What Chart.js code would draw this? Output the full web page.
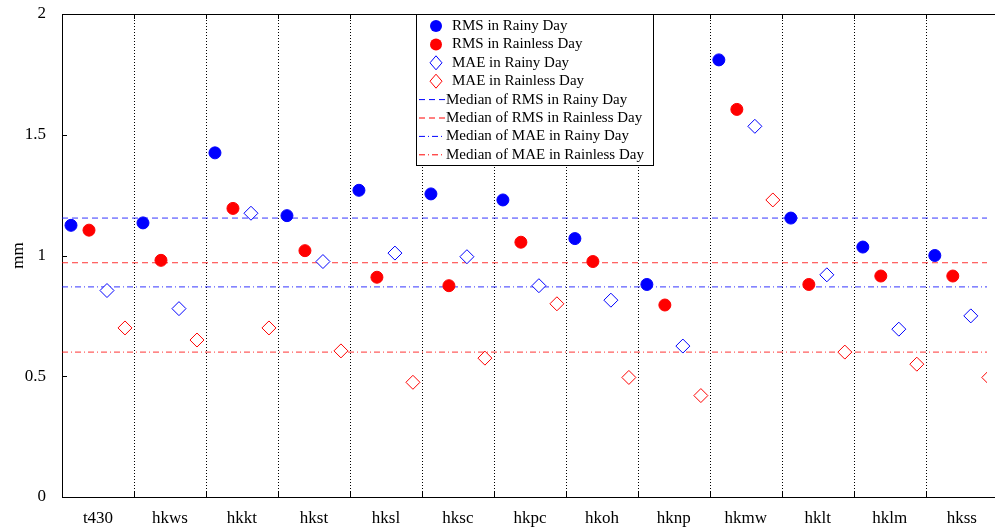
<!DOCTYPE html>
<html><head><meta charset="utf-8">
<script src="https://cdn.jsdelivr.net/npm/chart.js@4/dist/chart.umd.min.js"></script>
<style>html,body{margin:0;padding:0;overflow:hidden;background:#fff}#w{width:995px;height:529px}</style>
</head><body><div id="w"><canvas id="c"></canvas></div>
<script>
const stations=['t430','hkws','hkkt','hkst','hksl','hksc','hkpc','hkoh','hknp','hkmw','hklt','hklm','hkss'];
const rmsRainy=[1.125,1.135,1.425,1.165,1.27,1.255,1.23,1.07,0.88,1.81,1.155,1.035,1.00];
const rmsRainless=[1.105,0.98,1.195,1.02,0.91,0.875,1.055,0.975,0.795,1.605,0.88,0.915,0.915];
const maeRainy=[0.855,0.78,1.175,0.975,1.01,0.995,0.875,0.815,0.625,1.535,0.92,0.695,0.75];
const maeRainless=[0.70,0.65,0.70,0.605,0.475,0.575,0.80,0.495,0.42,1.23,0.60,0.55,0.495];
const medRmsRainy=1.155, medRmsRainless=0.97, medMaeRainy=0.87, medMaeRainless=0.60;
const yTicks=[0,0.5,1,1.5,2];
const F='"Liberation Serif","Times New Roman",serif';
const pts=(arr,off)=>arr.map((v,i)=>({x:i+off,y:v}));
const hline=v=>[{x:0,y:v},{x:13,y:v}];
const ds=[
 {label:'RMS in Rainy Day',data:pts(rmsRainy,0.125),pointStyle:'circle',radius:6,backgroundColor:'#0000ff',borderColor:'#0000ff',showLine:false},
 {label:'RMS in Rainless Day',data:pts(rmsRainless,0.375),pointStyle:'circle',radius:6,backgroundColor:'#ff0000',borderColor:'#ff0000',showLine:false},
 {label:'MAE in Rainy Day',data:pts(maeRainy,0.625),pointStyle:'rectRot',radius:7,backgroundColor:'#fff',borderColor:'#0000ff',borderWidth:1,showLine:false},
 {label:'MAE in Rainless Day',data:pts(maeRainless,0.875),pointStyle:'rectRot',radius:7,backgroundColor:'#fff',borderColor:'#ff0000',borderWidth:1,showLine:false},
 {label:'Median of RMS in Rainy Day',data:hline(medRmsRainy),showLine:true,radius:0,borderColor:'#0000ff',borderWidth:0.8,borderDash:[6,4]},
 {label:'Median of RMS in Rainless Day',data:hline(medRmsRainless),showLine:true,radius:0,borderColor:'#ff0000',borderWidth:0.8,borderDash:[6,4]},
 {label:'Median of MAE in Rainy Day',data:hline(medMaeRainy),showLine:true,radius:0,borderColor:'#0000ff',borderWidth:0.8,borderDash:[6,3,1,3]},
 {label:'Median of MAE in Rainless Day',data:hline(medMaeRainless),showLine:true,radius:0,borderColor:'#ff0000',borderWidth:0.8,borderDash:[6,3,1,3]}
];
const deco={id:'deco',
 beforeDatasetsDraw(ch){const c=ch.ctx,a=ch.chartArea,x=ch.scales.x,y=ch.scales.y;
  c.save();c.strokeStyle='#000';c.lineWidth=1;c.setLineDash([1,2]);
  for(let i=1;i<13;i++){const px=Math.round(x.getPixelForValue(i))+0.5;c.beginPath();c.moveTo(px,a.top);c.lineTo(px,a.bottom);c.stroke();}
  c.setLineDash([]);
  for(let i=1;i<13;i++){const px=Math.round(x.getPixelForValue(i))+0.5;c.beginPath();c.moveTo(px,a.top);c.lineTo(px,a.top+5);c.moveTo(px,a.bottom);c.lineTo(px,a.bottom-5);c.stroke();}
  yTicks.forEach(t=>{const py=Math.round(y.getPixelForValue(t))+0.5;c.beginPath();c.moveTo(a.left,py);c.lineTo(a.left+5,py);c.stroke();});
  c.strokeRect(a.left+0.5,a.top+0.5,a.right-a.left+20,a.bottom-a.top);
  c.restore();},
 afterDraw(ch){const c=ch.ctx;c.save();
  const bx=416,by=14,bw=237,bh=151;c.fillStyle='#fff';c.fillRect(bx,by,bw,bh);c.strokeStyle='#000';c.lineWidth=1;c.strokeRect(bx+0.5,by+0.5,bw,bh);
  c.font='15px '+F;c.textBaseline='middle';
  ds.forEach((d,i)=>{const cy=by+12+i*18.4;const cx=bx+20;
   c.fillStyle='#000';c.fillText(d.label,i<4?bx+36:bx+30,cy);
   if(i<4){c.beginPath();
    if(i<2){c.arc(cx,cy,6,0,7);c.fillStyle=d.backgroundColor;c.fill();}
    else{c.moveTo(cx,cy-7);c.lineTo(cx+6,cy);c.lineTo(cx,cy+7);c.lineTo(cx-6,cy);c.closePath();c.strokeStyle=d.borderColor;c.stroke();}
   }else{c.beginPath();c.setLineDash(d.borderDash);c.strokeStyle=d.borderColor;c.moveTo(bx+3,cy);c.lineTo(bx+29,cy);c.stroke();c.setLineDash([]);}
  });c.restore();}
};
new Chart(document.getElementById('c'),{type:'scatter',data:{datasets:ds},plugins:[deco],
 options:{responsive:true,maintainAspectRatio:false,animation:false,
  layout:{padding:{top:14,right:0,left:4,bottom:0}},
  plugins:{legend:{display:false},tooltip:{enabled:false}},
  elements:{point:{hoverRadius:6}},
  scales:{
   x:{type:'linear',min:0,max:12.85,grid:{display:false},border:{display:false},
    afterBuildTicks(s){s.ticks=stations.map((n,i)=>({value:i+0.5}));},
    ticks:{font:{family:F,size:17},color:'#000',padding:3,autoSkip:false,maxRotation:0,callback:v=>stations[Math.round(v-0.5)]},
    afterFit(s){s.height=32;s.paddingLeft=0;s.paddingRight=0;}},
   y:{min:0,max:2,grid:{display:false},border:{display:false},
    afterBuildTicks(s){s.ticks=yTicks.map(v=>({value:v}));},
    ticks:{font:{family:F,size:17},color:'#000',padding:8,callback:v=>String(v)},
    title:{display:true,text:'mm',font:{family:F,size:17},color:'#000'},
    afterFit(s){s.width=58;s.paddingTop=0;s.paddingBottom=0;}}
  }}});
</script></body></html>
